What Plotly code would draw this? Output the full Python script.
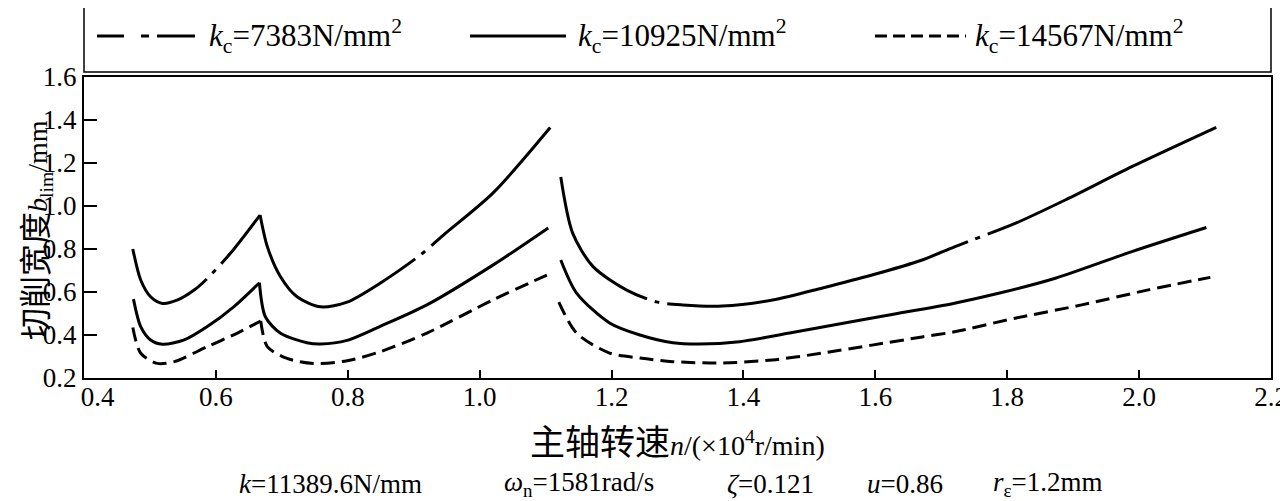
import plotly.graph_objects as go

# ---------------- data ----------------
kc_labels = ["7383", "10925", "14567"]

# kc = 7383 N/mm^2  (dash-dot)
n_a1 = [0.474, 0.486, 0.501, 0.519, 0.542, 0.567, 0.587, 0.622, 0.667]
b_a1 = [0.800, 0.656, 0.578, 0.547, 0.563, 0.609, 0.663, 0.780, 0.958]
n_a2 = [0.667, 0.678, 0.698, 0.723, 0.759, 0.799, 0.849, 0.910, 0.945, 1.020, 1.107]
b_a2 = [0.958, 0.811, 0.671, 0.578, 0.531, 0.553, 0.641, 0.772, 0.865, 1.060, 1.365]
n_a3 = [1.123, 1.141, 1.172, 1.223, 1.268, 1.308, 1.368, 1.444, 1.520, 1.595, 1.671, 1.720, 1.812, 1.888, 1.989, 2.117]
b_a3 = [1.135, 0.874, 0.718, 0.609, 0.554, 0.540, 0.535, 0.563, 0.619, 0.679, 0.749, 0.810, 0.919, 1.028, 1.183, 1.366]

# kc = 10925 N/mm^2  (solid)
n_b1 = [0.475, 0.486, 0.501, 0.519, 0.552, 0.587, 0.627, 0.666]
b_b1 = [0.567, 0.439, 0.377, 0.357, 0.377, 0.439, 0.531, 0.643]
n_b2 = [0.666, 0.675, 0.698, 0.738, 0.759, 0.799, 0.849, 0.920, 1.020, 1.104]
b_b2 = [0.643, 0.485, 0.408, 0.364, 0.358, 0.375, 0.440, 0.540, 0.725, 0.898]
n_b3 = [1.123, 1.147, 1.197, 1.243, 1.293, 1.333, 1.394, 1.470, 1.545, 1.621, 1.720, 1.787, 1.873, 1.989, 2.102]
b_b3 = [0.749, 0.595, 0.456, 0.400, 0.364, 0.358, 0.369, 0.409, 0.451, 0.493, 0.548, 0.594, 0.664, 0.788, 0.900]

# kc = 14567 N/mm^2  (dashed)
n_c1 = [0.474, 0.486, 0.511, 0.537, 0.587, 0.632, 0.668]
b_c1 = [0.435, 0.315, 0.268, 0.276, 0.346, 0.408, 0.465]
n_c2 = [0.668, 0.678, 0.708, 0.748, 0.799, 0.849, 0.920, 1.020, 1.102]
b_c2 = [0.465, 0.346, 0.291, 0.268, 0.280, 0.322, 0.409, 0.563, 0.679]
n_c3 = [1.120, 1.147, 1.197, 1.243, 1.293, 1.368, 1.444, 1.520, 1.595, 1.671, 1.720, 1.812, 1.913, 2.014, 2.108]
b_c3 = [0.553, 0.409, 0.316, 0.293, 0.276, 0.270, 0.284, 0.316, 0.353, 0.391, 0.415, 0.478, 0.540, 0.610, 0.668]

x_ticks = [0.4, 0.6, 0.8, 1.0, 1.2, 1.4, 1.6, 1.8, 2.0, 2.2]
x_ticklabels = ["\u00a0\u00a0\u00a0\u00a00.4", "0.6", "0.8", "1.0", "1.2", "1.4", "1.6", "1.8", "2.0", "2.2"]
y_ticks = [0.2, 0.4, 0.6, 0.8, 1.0, 1.2, 1.4, 1.6]
y_ticklabels = ["0.2", "0.4", "0.6", "0.8", "1.0", "1.2", "1.4", "1.6"]

params = ["<i>k</i>=11389.6N/mm", "<i>ω</i><sub>n</sub>=1581rad/s", "<i>ζ</i>=0.121",
          "<i>u</i>=0.86", "<i>r</i><sub>ε</sub>=1.2mm"]

# ---------------- figure ----------------
SERIF = "Liberation Serif, Times New Roman, serif"
CJK = "Noto Sans CJK SC"
OFF = 8                      # default body margin of the html page
W, H = 1288 - OFF, 501 - OFF
# plot box in page pixels: x 84..1271, y 77..378
ML, MR, MT, MB = 84 - OFF, 1288 - 1271, 77 - OFF, 501 - 378
PW, PH = W - ML - MR, H - MT - MB

# dash pattern per lobe (style only)
dash_styles = {
    "7383": ["117px,8px,5px,8px,400px", "225px,8px,5px,8px,400px",
             "160px,8px,5px,8px,310px,8px,5px,8px,400px"],
    "10925": ["solid", "solid", "solid"],
    "14567": ["14px,7px", "14px,7px", "14px,7px"],
}
series = {
    "7383": [(n_a1, b_a1), (n_a2, b_a2), (n_a3, b_a3)],
    "10925": [(n_b1, b_b1), (n_b2, b_b2), (n_b3, b_b3)],
    "14567": [(n_c1, b_c1), (n_c2, b_c2), (n_c3, b_c3)],
}

fig = go.Figure()
for kc in kc_labels:
    for (xs, ys), dash in zip(series[kc], dash_styles[kc]):
        fig.add_trace(go.Scatter(
            x=xs, y=ys, mode="lines", showlegend=False, hoverinfo="skip",
            line=dict(color="black", width=3, shape="spline", smoothing=0.8, dash=dash),
        ))

def px2x(px):            # page pixel -> paper x
    return (px - OFF - ML) / PW

def py2y(py):            # page pixel -> paper y
    return (MT + PH - (py - OFF)) / PH

shapes = [
    dict(type="rect", xref="paper", yref="paper", x0=0, x1=1,
         y0=py2y(72), y1=py2y(2), line=dict(color="black", width=1.5)),
]
leg_y = py2y(36)
legend_items = [
    (97, 195, "27px,17px,8px,8px,38px", 207),
    (470, 566, "solid", 576),
    (875, 966, "12px,6px", 973),
]
annotations = []
for (x0, x1, dash, tx), kc in zip(legend_items, kc_labels):
    shapes.append(dict(type="line", xref="paper", yref="paper",
                       x0=px2x(x0), x1=px2x(x1), y0=leg_y, y1=leg_y,
                       line=dict(color="black", width=2.8, dash=dash)))
    annotations.append(dict(
        xref="paper", yref="paper", x=px2x(tx), y=leg_y, xanchor="left", yanchor="middle",
        text="<i>k</i><sub>c</sub>=" + kc + "N/mm<sup>2</sup>", showarrow=False,
        font=dict(family=SERIF, size=31, color="black")))

param_centers = [330, 579, 770, 905, 1047]
for t, cx in zip(params, param_centers):
    annotations.append(dict(
        xref="paper", yref="paper", x=px2x(cx), y=py2y(484), xanchor="center", yanchor="middle",
        text=t, showarrow=False, font=dict(family=SERIF, size=27, color="black")))

# axis titles
annotations.append(dict(
    xref="paper", yref="paper", x=px2x(677), y=py2y(439), xanchor="center", yanchor="middle",
    showarrow=False, font=dict(family=SERIF, size=28, color="black"),
    text=f"<span style='font-family:{CJK};font-size:35px'>主轴转速</span><i>n</i>/(×10<sup>4</sup>r/min)"))
annotations.append(dict(
    xref="paper", yref="paper", x=px2x(33), y=py2y(230), xanchor="center", yanchor="middle",
    textangle=-90, showarrow=False, font=dict(family=SERIF, size=28, color="black"),
    text=f"<span style='font-family:{CJK};font-size:32px'>切削宽度</span><i>b</i><sub>lim</sub>/mm"))

fig.update_layout(
    width=W, height=H,
    margin=dict(l=ML, r=MR, t=MT, b=MB, pad=0),
    paper_bgcolor="white", plot_bgcolor="white",
    font=dict(family=SERIF, size=27, color="black"),
    shapes=shapes, annotations=annotations,
    showlegend=False,
)
fig.update_xaxes(
    range=[0.4, 2.2], tickmode="array", tickvals=x_ticks, ticktext=x_ticklabels,
    ticks="inside", ticklen=8, tickwidth=1.5, tickcolor="black",
    showline=True, linecolor="black", linewidth=2, mirror=True,
    showgrid=False, zeroline=False, automargin=False,
    tickfont=dict(family=SERIF, size=27), ticklabelstandoff=-6,
)
fig.update_yaxes(
    range=[0.2, 1.6], tickmode="array", tickvals=y_ticks, ticktext=y_ticklabels,
    ticks="inside", ticklen=13, tickwidth=1.5, tickcolor="black",
    showline=True, linecolor="black", linewidth=2, mirror=True,
    showgrid=False, zeroline=False, automargin=False,
    tickfont=dict(family=SERIF, size=27),
)

fig.write_html("out.html")
